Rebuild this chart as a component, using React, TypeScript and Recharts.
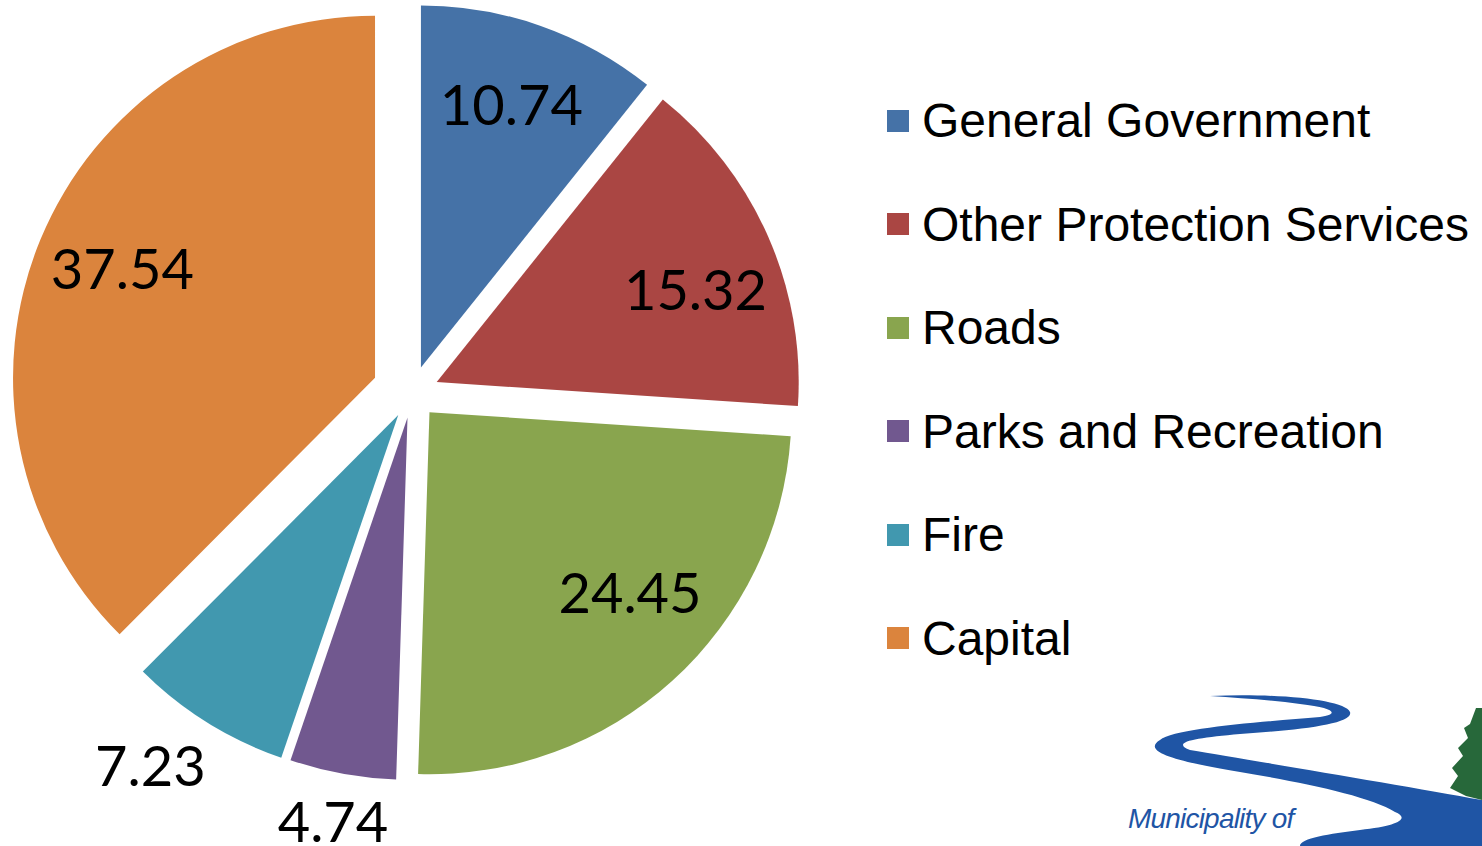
import { PieChart, Pie, Cell } from "recharts";

const categories = [
  "General Government",
  "Other Protection Services",
  "Roads",
  "Parks and Recreation",
  "Fire",
  "Capital",
];
const values = [10.74, 15.32, 24.45, 4.74, 7.23, 37.54];
const COLORS = ["#4572A7", "#AA4643", "#89A54E", "#71588F", "#4198AF", "#DB843D"];
// how far each slice is pulled out from the centre (px)
const EXPLODE = [27, 27, 26, 25, 26, 40];
// small angular nudge of each data label (degrees), as Excel's best fit does
const LABEL_SHIFT = [0, 5, -5, 0, 3, 0];

const data = categories.map((name, i) => ({ name, value: values[i] }));

const CX = 407;
const CY = 388;
const RADIUS = 362;
const RAD = Math.PI / 180;

// mid angle of each slice, clockwise from 12 o'clock (degrees)
const total = values.reduce((a, b) => a + b, 0);
const midAngles: number[] = [];
let acc = 0;
values.forEach((v) => {
  midAngles.push(((acc + v / 2) / total) * 360);
  acc += v;
});

const renderLabel = (slice: number) => (props: any) => {
  const { index, cx, cy, midAngle, outerRadius, value } = props;
  if (index !== slice) return null;
  const a = (midAngle - LABEL_SHIFT[slice]) * RAD;
  const cos = Math.cos(-a);
  const sin = Math.sin(-a);
  let r = outerRadius * 0.755;
  if (value < 8) {
    // small slices: label box sits just outside the arc
    r = outerRadius + 22 + Math.abs(cos) * 55 + Math.abs(sin) * 22;
  }
  return (
    <text
      x={cx + r * cos}
      y={cy + r * sin - 6}
      fill="#000"
      textAnchor="middle"
      dominantBaseline="central"
      style={{ fontFamily: "Lato, sans-serif", fontSize: 56 }}
    >
      {value.toFixed(2)}
    </text>
  );
};

function Logo() {
  return (
    <svg
      width={1482}
      height={846}
      style={{ position: "absolute", left: 0, top: 0, pointerEvents: "none" }}
    >
      <path
        d="M1210 696 C1280 693 1345 700 1350 712 C1354 724 1300 730 1240 734 C1195 738 1170 742 1190 750 C1250 760 1400 785 1482 800 L1482 846 L1300 846 C1300 838 1330 834 1360 830 C1400 826 1410 818 1395 812 C1370 796 1300 782 1240 772 C1180 762 1140 752 1160 740 C1175 728 1260 722 1320 717 C1340 714 1335 708 1300 704 C1270 700 1240 698 1210 696 Z"
        fill="#1F55A5"
      />
      <path
        d="M1476 708 L1470 724 L1464 728 L1468 738 L1458 748 L1463 756 L1452 768 L1458 776 L1450 788 L1466 796 L1482 800 L1482 708 Z"
        fill="#27683A"
      />
      <text
        x={1128}
        y={828}
        fill="#1F55A5"
        style={{
          fontFamily: "Liberation Sans, Arial, sans-serif",
          fontStyle: "italic",
          fontSize: 28,
          letterSpacing: -0.8,
        }}
      >
        Municipality of
      </text>
    </svg>
  );
}

export default function App() {
  return (
    <div
      style={{
        position: "absolute",
        left: 0,
        top: 0,
        width: 1482,
        height: 846,
        background: "#fff",
        overflow: "hidden",
      }}
    >
      <PieChart width={1482} height={846}>
        {data.map((_, slice) => {
          const dx = EXPLODE[slice] * Math.sin(midAngles[slice] * RAD);
          const dy = -EXPLODE[slice] * Math.cos(midAngles[slice] * RAD);
          return (
            <Pie
              key={slice}
              data={data}
              dataKey="value"
              nameKey="name"
              cx={CX + dx}
              cy={CY + dy}
              outerRadius={RADIUS}
              startAngle={90}
              endAngle={-270}
              stroke="none"
              labelLine={false}
              label={renderLabel(slice)}
              isAnimationActive={false}
            >
              {data.map((entry, i) => (
                <Cell key={entry.name} fill={i === slice ? COLORS[i] : "none"} />
              ))}
            </Pie>
          );
        })}
      </PieChart>
      <div
        style={{
          position: "absolute",
          left: 887,
          top: 69,
          fontFamily: "Liberation Sans, Arial, sans-serif",
          fontSize: 48,
          color: "#000",
        }}
      >
        {categories.map((name, i) => (
          <div
            key={name}
            style={{ display: "flex", alignItems: "center", height: 103.5 }}
          >
            <span
              style={{
                display: "inline-block",
                width: 22,
                height: 22,
                background: COLORS[i],
                marginRight: 13,
              }}
            />
            <span style={{ whiteSpace: "nowrap" }}>{name}</span>
          </div>
        ))}
      </div>
      <Logo />
    </div>
  );
}
